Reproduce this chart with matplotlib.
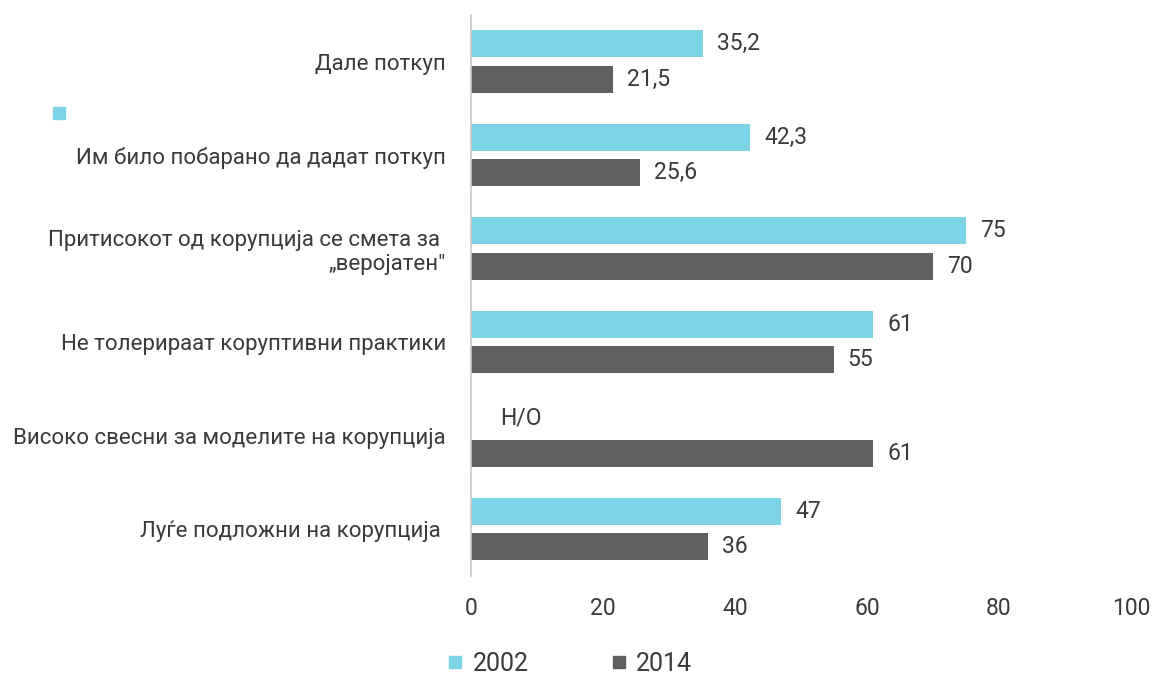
import matplotlib
matplotlib.use("Agg")
import matplotlib.pyplot as plt
from matplotlib.lines import Line2D
from matplotlib.patches import Rectangle
import numpy as np

# data
categories = [
    "Дале поткуп",
    "Им било побарано да дадат поткуп",
    "Притисокот од корупција се смета за \n„веројатен\"",
    "Не толерираат коруптивни практики",
    "Високо свесни за моделите на корупција",
    "Луѓе подложни на корупција ",
]
vals_2002 = [35.2, 42.3, 75, 61, None, 47]
vals_2014 = [21.5, 25.6, 70, 55, 61, 36]
series_names = ["2002", "2014"]
na_label = "Н/О"

c2002 = "#7fd3e6"
c2014 = "#615f5d"
txt = "#3a3a3a"

plt.rcParams["font.family"] = ["Roboto", "DejaVu Sans"]

fig = plt.figure(figsize=(11.54, 6.75), dpi=100)
ax = fig.add_axes([0.408, 0.147, 0.572, 0.831])

y = np.arange(len(categories))
h = 0.29
off = 0.19

def fmt(v):
    s = f"{v:g}"
    return s.replace(".", ",")

for i, (a, b) in enumerate(zip(vals_2002, vals_2014)):
    if a is not None:
        ax.barh(y[i] - off, a, height=h, color=c2002)
        ax.annotate(fmt(a), (a, y[i] - off), xytext=(10, 0), textcoords="offset points",
                    va="center", ha="left", fontsize=16.5, color=txt)
    else:
        ax.annotate(na_label, (0, y[i] - off), xytext=(21, 0), textcoords="offset points",
                    va="center", ha="left", fontsize=16.5, color=txt)
    ax.barh(y[i] + off, b, height=h, color=c2014)
    ax.annotate(fmt(b), (b, y[i] + off), xytext=(10, 0), textcoords="offset points",
                va="center", ha="left", fontsize=16.5, color=txt)

ax.set_ylim(len(categories) - 0.5, -0.5)
ax.set_xlim(0, 100)
ax.set_xticks([0, 20, 40, 60, 80, 100])
ax.set_yticks(y)
ax.set_yticklabels(categories, fontsize=16, color=txt)
ax.tick_params(axis="x", length=0, pad=15, labelsize=16.5, labelcolor=txt)
ax.tick_params(axis="y", length=0, pad=18)
for s in ["top", "right", "bottom"]:
    ax.spines[s].set_visible(False)
ax.spines["left"].set_color("#c8c8c8")
ax.spines["left"].set_linewidth(1.2)

# stray marker at top left
fig.patches.append(Rectangle((53 / 1154, 1 - 119 / 675), 12 / 1154, 12 / 675,
                             transform=fig.transFigure, color=c2002))

handles = [Line2D([], [], marker="s", ls="", color=c, markersize=9) for c in (c2002, c2014)]
fig.legend(handles, series_names, loc="center", bbox_to_anchor=(0.494, 0.016), ncol=2,
           frameon=False, fontsize=18, labelcolor=txt, handlelength=0.6,
           handletextpad=0.4, columnspacing=3.3)

fig.savefig("out.png", dpi=100)
